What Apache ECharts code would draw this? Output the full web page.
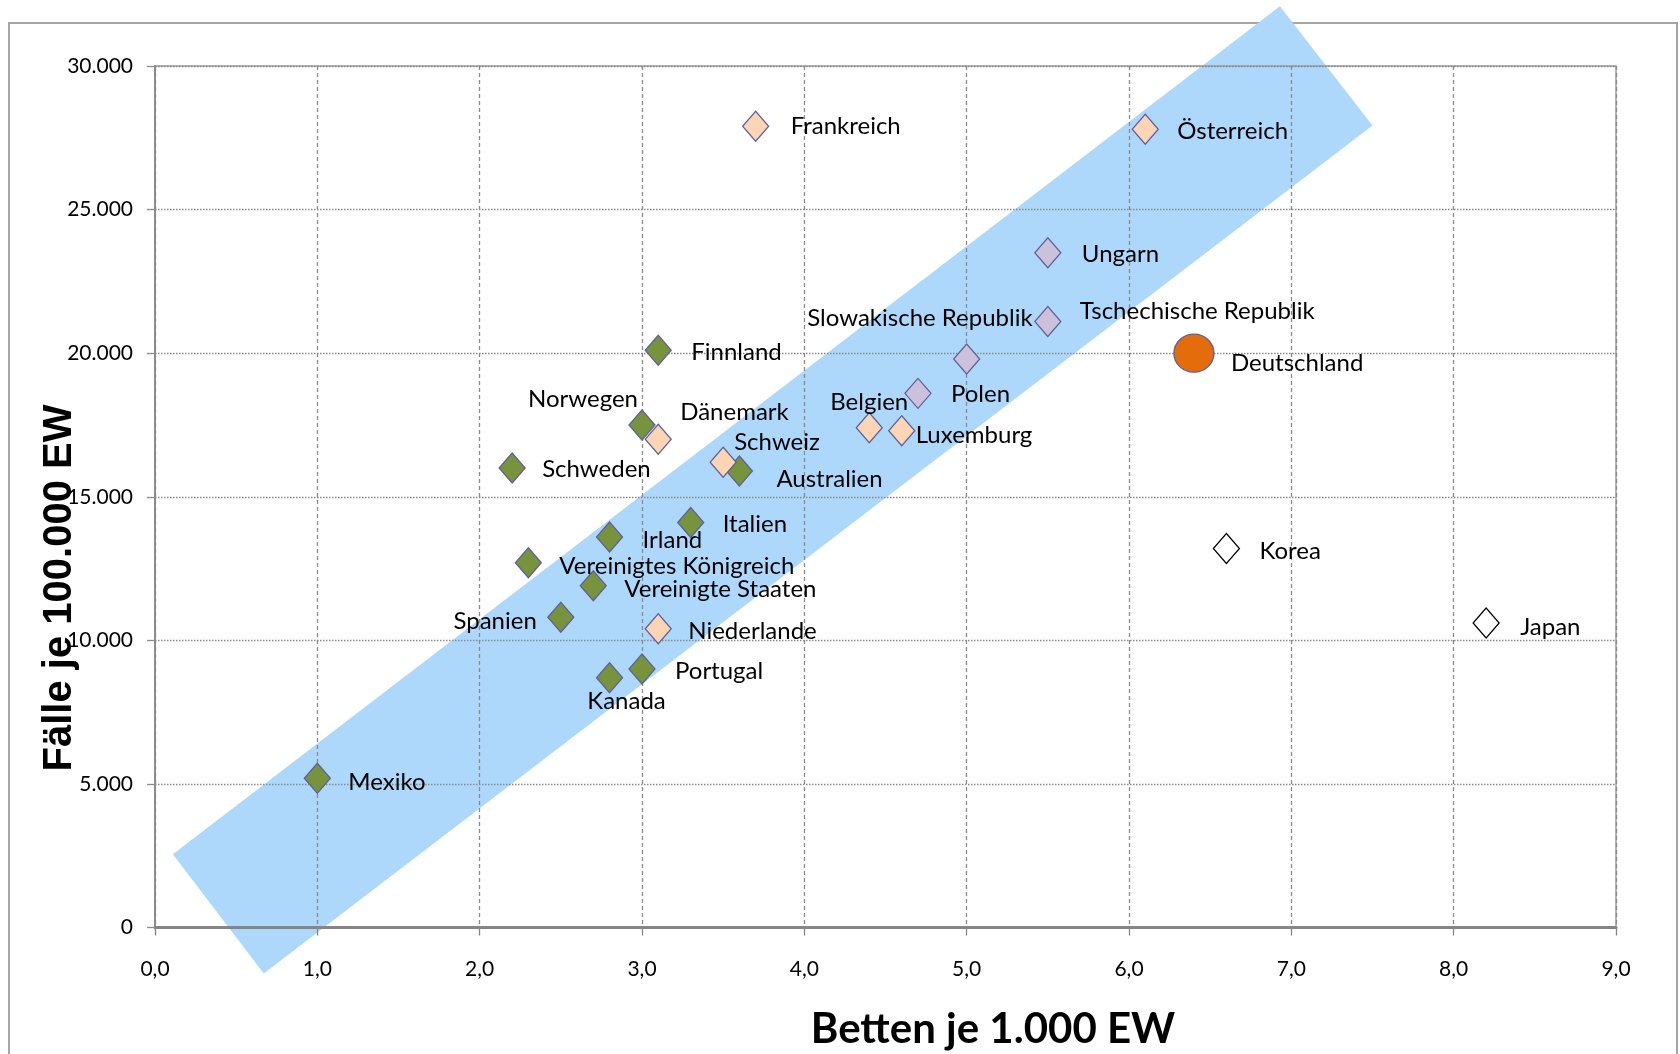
<!DOCTYPE html>
<html lang="de">
<head>
<meta charset="utf-8">
<title>Betten und Fälle im OECD-Vergleich</title>
<script src="https://cdn.jsdelivr.net/npm/echarts@6.0.0/dist/echarts.min.js"></script>
<style>
  html, body { margin: 0; padding: 0; background: #ffffff; }
  #chart { width: 1680px; height: 1054px; }
</style>
</head>
<body>
<div id="chart"></div>
<script>
// Länder, Betten je 1.000 EW und Fälle je 100.000 EW
const countries = [
  'Mexiko', 'Spanien', 'Kanada', 'Portugal', 'Vereinigtes Königreich', 'Vereinigte Staaten',
  'Irland', 'Italien', 'Schweden', 'Norwegen', 'Australien', 'Finnland',
  'Niederlande', 'Dänemark', 'Schweiz', 'Frankreich', 'Österreich', 'Belgien', 'Luxemburg',
  'Ungarn', 'Tschechische Republik', 'Slowakische Republik', 'Polen',
  'Korea', 'Japan', 'Deutschland'
];
const beds = [
  1.0, 2.5, 2.8, 3.0, 2.3, 2.7,
  2.8, 3.3, 2.2, 3.0, 3.6, 3.1,
  3.1, 3.1, 3.5, 3.7, 6.1, 4.4, 4.6,
  5.5, 5.5, 5.0, 4.7,
  6.6, 8.2, 6.4
];
const cases = [
  5200, 10800, 8700, 9000, 12700, 11900,
  13600, 14100, 16000, 17500, 15900, 20100,
  10400, 17000, 16200, 27900, 27800, 17400, 17300,
  23500, 21100, 19800, 18600,
  13200, 10600, 20000
];
// Ländergruppe je Land (bestimmt die Markerfarbe)
const groups = [
  'A', 'A', 'A', 'A', 'A', 'A',
  'A', 'A', 'A', 'A', 'A', 'A',
  'B', 'B', 'B', 'B', 'B', 'B', 'B',
  'C', 'C', 'C', 'C',
  'D', 'D', 'E'
];

// Eckpunkte des Korridors (Betten, Fälle)
const bandBeds = [0.11, 0.67, 7.50, 6.93];
const bandCases = [2550, -1600, 27930, 32080];

// Achsen
const xTicks = { min: 0, max: 9, step: 1 };
const yTicks = { min: 0, max: 30000, step: 5000 };

// Darstellung der Gruppen
const groupStyle = {
  A: { symbol: 'diamond', size: [26, 30], fill: '#77933c', stroke: '#5f5f9e' },
  B: { symbol: 'diamond', size: [26, 30], fill: '#fcd5b5', stroke: '#5f5f9e' },
  C: { symbol: 'diamond', size: [26, 30], fill: '#ccc1da', stroke: '#5f5f9e' },
  D: { symbol: 'diamond', size: [26, 30], fill: '#ffffff', stroke: '#000000' },
  E: { symbol: 'circle',  size: [40, 38], fill: '#e46c0a', stroke: '#5f5f9e' }
};

// Lage der Beschriftung relativ zum Marker: [Ausrichtung, dx, dy]
const labelPlacement = {
  'Mexiko': ['left', 31, 4],
  'Spanien': ['right', -24, 4],
  'Kanada': ['center', 17, 24],
  'Portugal': ['left', 33, 2],
  'Vereinigtes Königreich': ['left', 31, 3],
  'Vereinigte Staaten': ['left', 31, 3],
  'Irland': ['left', 33, 3],
  'Italien': ['left', 32, 2],
  'Schweden': ['left', 30, 1],
  'Norwegen': ['right', -4, -26],
  'Australien': ['left', 37, 8],
  'Finnland': ['left', 33, 2],
  'Niederlande': ['left', 30, 2],
  'Dänemark': ['left', 22, -27],
  'Schweiz': ['left', 11, -20],
  'Frankreich': ['left', 35, 0],
  'Österreich': ['left', 32, 2],
  'Belgien': ['center', 0, -26],
  'Luxemburg': ['left', 14, 5],
  'Ungarn': ['left', 34, 2],
  'Tschechische Republik': ['left', 32, -10],
  'Slowakische Republik': ['right', 66, -41],
  'Polen': ['left', 33, 1],
  'Korea': ['left', 33, 3],
  'Japan': ['left', 34, 4],
  'Deutschland': ['left', 37, 10]
};

const LABEL_FONT = 'Lato, "Open Sans", sans-serif';

function buildGroupSeries(g) {
  const st = groupStyle[g];
  const data = [];
  countries.forEach((name, i) => {
    if (groups[i] !== g) return;
    const p = labelPlacement[name] || ['left', 32, 0];
    data.push({
      name: name,
      value: [beds[i], cases[i]],
      label: {
        show: true,
        position: 'inside',
        align: p[0],
        verticalAlign: 'middle',
        offset: [p[1], p[2]],
        formatter: '{b}',
        color: '#000000',
        fontFamily: LABEL_FONT,
        fontSize: 24
      }
    });
  });
  return {
    type: 'scatter',
    name: g,
    symbol: st.symbol,
    symbolSize: st.size,
    z: 3,
    itemStyle: { color: st.fill, borderColor: st.stroke, borderWidth: 1.3, opacity: 1 },
    emphasis: { disabled: true },
    data: data
  };
}

const bandSeries = {
  type: 'custom',
  name: 'Korridor',
  z: -1,
  silent: true,
  clip: false,
  data: [[bandBeds[0], bandCases[0]]],
  renderItem: function (params, api) {
    const pts = bandBeds.map((b, i) => api.coord([b, bandCases[i]]));
    return {
      type: 'polygon',
      shape: { points: pts },
      style: { fill: '#add8fb', stroke: null }
    };
  }
};

const chart = echarts.init(document.getElementById('chart'), null, { renderer: 'canvas' });

chart.setOption({
  animation: false,
  backgroundColor: '#ffffff',
  grid: {
    left: 155, right: 64, top: 66, bottom: 126.5,
    show: true, borderColor: '#9a9a9a', borderWidth: 1.5, backgroundColor: 'transparent'
  },
  xAxis: {
    type: 'value',
    min: xTicks.min, max: xTicks.max, interval: xTicks.step,
    axisLine: { show: true, onZero: false, lineStyle: { color: '#858585', width: 3 } },
    axisTick: { show: true, inside: false, length: 8, lineStyle: { color: '#858585', width: 1.3 } },
    axisLabel: {
      margin: 31, color: '#000000', fontFamily: LABEL_FONT, fontSize: 21,
      formatter: v => v.toFixed(1).replace('.', ',')
    },
    splitLine: { show: true, lineStyle: { color: '#8a8a8a', width: 1.3, type: [4, 3] } }
  },
  yAxis: {
    type: 'value',
    min: yTicks.min, max: yTicks.max, interval: yTicks.step,
    axisLine: { show: true, onZero: false, lineStyle: { color: '#8c8c8c', width: 2 } },
    axisTick: { show: true, inside: false, length: 8, lineStyle: { color: '#8c8c8c', width: 1.3 } },
    axisLabel: {
      margin: 22, color: '#000000', fontFamily: LABEL_FONT, fontSize: 21,
      formatter: v => v === 0 ? '0' : v.toLocaleString('de-DE')
    },
    splitLine: { show: true, lineStyle: { color: '#8a8a8a', width: 1.3, type: [1.5, 1.5] } }
  },
  graphic: [
    {
      type: 'rect', silent: true, z: -10,
      shape: { x: 9, y: 23, width: 1668, height: 1100 },
      style: { fill: 'none', stroke: '#a6a6a6', lineWidth: 2 }
    },
    {
      type: 'text', silent: true,
      x: 993, y: 1029,
      style: {
        text: 'Betten je 1.000 EW',
        fill: '#000000',
        font: 'bold 42px Lato, "Open Sans", sans-serif',
        align: 'center', verticalAlign: 'middle'
      }
    },
    {
      type: 'text', silent: true,
      x: 60, y: 588, rotation: Math.PI / 2,
      style: {
        text: 'Fälle je 100.000 EW',
        fill: '#000000',
        font: 'bold 40px "Liberation Sans", Arial, sans-serif',
        align: 'center', verticalAlign: 'middle'
      }
    }
  ],
  series: [bandSeries].concat(['A', 'B', 'C', 'D', 'E'].map(buildGroupSeries))
});
</script>
</body>
</html>
